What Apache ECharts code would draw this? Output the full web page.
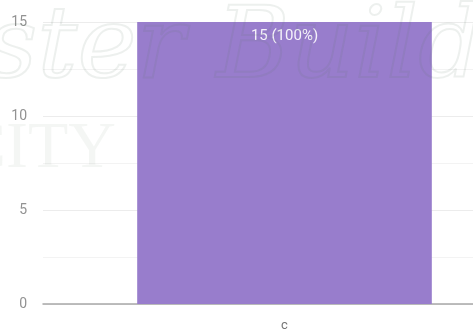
<!DOCTYPE html>
<html>
<head>
<meta charset="utf-8">
<script src="https://cdn.jsdelivr.net/npm/echarts@6/dist/echarts.min.js"></script>
<style>
  html, body { margin: 0; padding: 0; background: #fff; overflow: hidden; width: 473px; height: 332px; }
  /* the plot runs past the right edge of the view */
  #chart { width: 526px; height: 332px; }
</style>
</head>
<body>
<div id="chart"></div>
<script>
// Data
const categories = ['c'];
const values = [15];
const yTicks = [0, 5, 10, 15];

const total = values.reduce((a, b) => a + b, 0);

const chart = echarts.init(document.getElementById('chart'), null, { renderer: 'canvas' });

chart.setOption({
  animation: false,
  backgroundColor: '#ffffff',
  grid: { left: 43, right: 0, top: 22, bottom: 28, containLabel: false },
  xAxis: {
    type: 'category',
    data: categories,
    axisLine: { show: true, lineStyle: { color: '#a8a8a8', width: 1.5 } },
    axisTick: { show: false },
    axisLabel: { color: '#757575', fontFamily: 'Roboto', fontSize: 13, margin: 15 }
  },
  yAxis: {
    type: 'value',
    min: yTicks[0],
    max: yTicks[yTicks.length - 1],
    interval: 5,
    axisLine: { show: false },
    axisTick: { show: false },
    axisLabel: { color: '#929292', fontFamily: 'Roboto', fontSize: 14, margin: 16 },
    splitLine: { show: true, lineStyle: { color: '#ececec', width: 1 } },
    minorTick: { show: false, splitNumber: 2 },
    minorSplitLine: { show: true, lineStyle: { color: '#f3f3f3', width: 1 } }
  },
  series: [{
    type: 'bar',
    data: values,
    barWidth: '61%',
    itemStyle: { color: '#987dcc' },
    label: {
      show: true,
      position: 'insideTop',
      distance: 7,
      color: 'rgba(255,255,255,0.9)',
      fontFamily: 'Roboto',
      fontSize: 15,
      formatter: p => p.value + ' (' + Math.round(p.value / total * 100) + '%)'
    }
  }],
  graphic: [
    {
      type: 'text',
      left: -38, top: 117, z: 100, silent: true,
      style: { text: 'CITY', font: '66px "Liberation Serif"', fill: 'rgba(110,135,120,0.08)' }
    },
    {
      type: 'text',
      left: -15, top: 0, z: 100, silent: true,
      style: {
        text: 'ster Builder',
        font: 'italic 100px "DejaVu Serif"',
        fill: 'rgba(0,0,0,0)',
        stroke: 'rgba(90,120,100,0.11)',
        lineWidth: 2
      }
    }
  ]
});
</script>
</body>
</html>
